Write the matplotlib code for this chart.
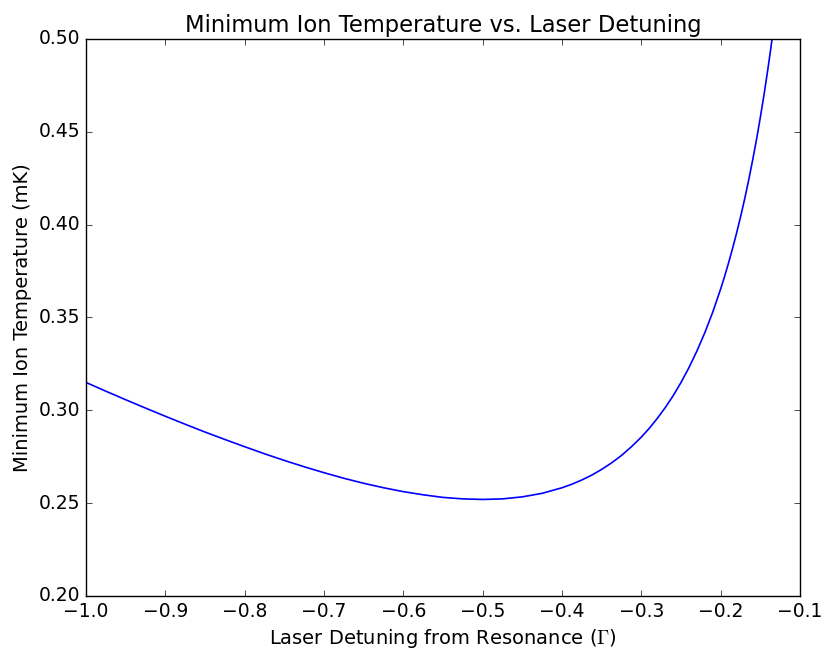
import matplotlib
matplotlib.use('Agg')
import matplotlib.pyplot as plt

plt.style.use('classic')
plt.rcParams['mathtext.fontset'] = 'cm'

# detuning in units of Gamma, minimum temperature in mK
detuning = [-1.0, -0.975, -0.95, -0.925, -0.9, -0.875, -0.85, -0.825, -0.8, -0.775,
            -0.75, -0.725, -0.7, -0.675, -0.65, -0.625, -0.6, -0.575, -0.55, -0.525,
            -0.5, -0.475, -0.45, -0.425, -0.4, -0.3875, -0.375, -0.3625, -0.35, -0.3375,
            -0.325, -0.3125, -0.3, -0.29, -0.28, -0.27, -0.26, -0.25, -0.24, -0.23,
            -0.22, -0.21, -0.2, -0.195, -0.19, -0.185, -0.18, -0.175, -0.17, -0.165,
            -0.16, -0.155, -0.15, -0.145, -0.14, -0.1375, -0.135]
temp_mK = [0.3150, 0.3103, 0.3057, 0.3012, 0.2968, 0.2925, 0.2883, 0.2843, 0.2804, 0.2766,
           0.2730, 0.2696, 0.2664, 0.2634, 0.2607, 0.2583, 0.2562, 0.2545, 0.2531, 0.2523,
           0.2520, 0.2523, 0.2534, 0.2553, 0.2583, 0.2602, 0.2625, 0.2651, 0.2682, 0.2717,
           0.2757, 0.2804, 0.2856, 0.2903, 0.2956, 0.3014, 0.3078, 0.3150, 0.3230, 0.3319,
           0.3418, 0.3529, 0.3654, 0.3722, 0.3795, 0.3872, 0.3954, 0.4041, 0.4134, 0.4234,
           0.4341, 0.4455, 0.4578, 0.4710, 0.4853, 0.4928, 0.5007]

fig = plt.figure(figsize=(8.28, 6.52), dpi=100, facecolor='white')
ax = fig.add_axes([0.1039, 0.0859, 0.8623, 0.8543])

ax.plot(detuning, temp_mK, color='b', lw=1.2)
ax.set_xlim(-1.0, -0.1)
ax.set_ylim(0.20, 0.50)
ax.set_xticks([-1.0, -0.9, -0.8, -0.7, -0.6, -0.5, -0.4, -0.3, -0.2, -0.1])
ax.set_yticks([0.20, 0.25, 0.30, 0.35, 0.40, 0.45, 0.50])
ax.tick_params(labelsize=13.5)

ax.set_title('Minimum Ion Temperature vs. Laser Detuning', fontsize=16.3)
ax.set_xlabel(r'Laser Detuning from Resonance ($\Gamma$)', fontsize=14)
ax.set_ylabel('Minimum Ion Temperature (mK)', fontsize=14)

fig.savefig('out.png', dpi=100, facecolor='white')
